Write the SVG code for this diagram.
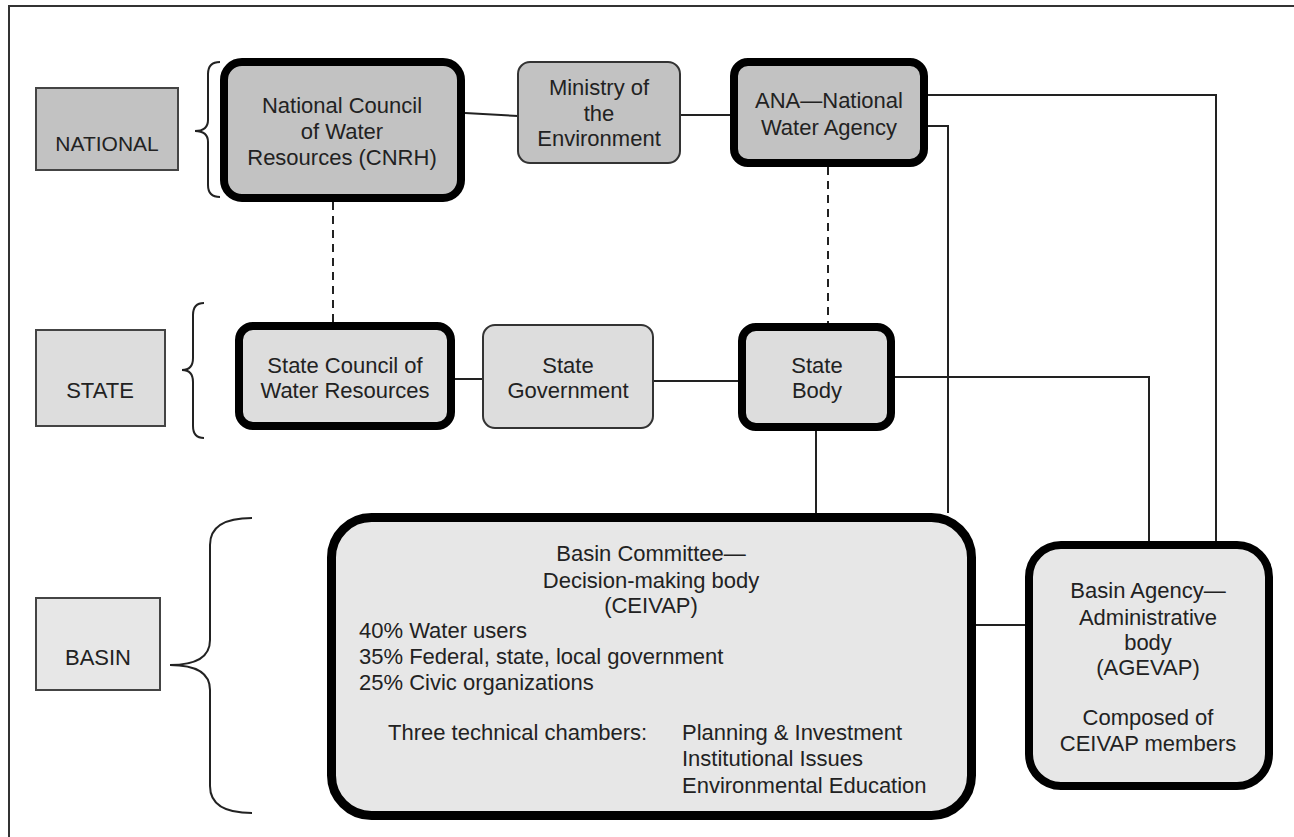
<svg xmlns="http://www.w3.org/2000/svg" width="1294" height="837" viewBox="0 0 1294 837">
<style>
text{font-family:"Liberation Sans",Arial,sans-serif;font-size:22px;fill:#222}
.c{text-anchor:middle}
.lbl{stroke:#444;stroke-width:2}
.thin{stroke:#333;stroke-width:2}
.thick{stroke:#000;stroke-width:8}
.nat{fill:#c2c2c2}
.sta{fill:#dddddd}
.bas{fill:#e7e7e7}
.ln{fill:none;stroke:#222;stroke-width:2}
.dash{fill:none;stroke:#222;stroke-width:2;stroke-dasharray:8 6}
.brace{fill:none;stroke:#222;stroke-width:2}
</style>
<rect x="0" y="0" width="1294" height="837" fill="#fff"/>
<path d="M9,837 V6 H1294" fill="none" stroke="#333" stroke-width="2"/>

<g id="braces">
<path class="brace" d="M220,62 Q208,62 208,74 V120 Q208,131 195,131 Q208,131 208,142 V185 Q208,197 220,197"/>
<path class="brace" d="M204,303 Q193,303 193,315 V358 Q193,370 182,370 Q193,370 193,382 V426 Q193,438 204,438"/>
<path class="brace" d="M252,518 Q210,518 210,545 V640 Q210,665 170,665 Q210,665 210,690 V786 Q210,813 252,813"/>
</g>

<g id="connectors">
<path class="ln" d="M465,113 L518,116"/>
<path class="ln" d="M680,115 H730"/>
<path class="ln" d="M928,95 H1216 V541"/>
<path class="ln" d="M928,126 H948 V513"/>
<path class="ln" d="M455,379 H483"/>
<path class="ln" d="M653,381 H738"/>
<path class="ln" d="M895,377 H1149 V541"/>
<path class="ln" d="M816,431 V513"/>
<path class="ln" d="M976,625 H1025"/>
<path class="dash" d="M333,202 V322"/>
<path class="dash" d="M828,167 V323"/>
</g>

<g id="label-national">
<rect class="lbl nat" x="36" y="88" width="142" height="82"/>
<text class="c" x="107" y="151" style="font-size:21px">NATIONAL</text>
</g>
<g id="label-state">
<rect class="lbl sta" x="36" y="330" width="129" height="96"/>
<text class="c" x="100" y="398">STATE</text>
</g>
<g id="label-basin">
<rect class="lbl bas" x="36" y="598" width="124" height="92"/>
<text class="c" x="98" y="665">BASIN</text>
</g>

<g id="cnrh">
<rect class="thick nat" x="224" y="62" width="237" height="136" rx="18"/>
<text class="c" x="342" y="113">National Council</text>
<text class="c" x="342" y="139">of Water</text>
<text class="c" x="342" y="165">Resources (CNRH)</text>
</g>
<g id="ministry">
<rect class="thin nat" x="518" y="62" width="162" height="101" rx="12"/>
<text class="c" x="599" y="95">Ministry of</text>
<text class="c" x="599" y="121">the</text>
<text class="c" x="599" y="146">Environment</text>
</g>
<g id="ana">
<rect class="thick nat" x="734" y="62" width="190" height="101" rx="14"/>
<text class="c" x="829" y="108">ANA—National</text>
<text class="c" x="829" y="135">Water Agency</text>
</g>

<g id="state-council">
<rect class="thick sta" x="239" y="326" width="212" height="100" rx="14"/>
<text class="c" x="345" y="373">State Council of</text>
<text class="c" x="345" y="398">Water Resources</text>
</g>
<g id="state-government">
<rect class="thin sta" x="483" y="325" width="170" height="103" rx="12"/>
<text class="c" x="568" y="373">State</text>
<text class="c" x="568" y="398">Government</text>
</g>
<g id="state-body">
<rect class="thick sta" x="742" y="327" width="149" height="100" rx="14"/>
<text class="c" x="817" y="373">State</text>
<text class="c" x="817" y="398">Body</text>
</g>

<g id="basin-committee">
<rect class="bas" x="331.5" y="517.5" width="640" height="298" rx="40" stroke="#000" stroke-width="9"/>
<text class="c" x="651" y="561">Basin Committee—</text>
<text class="c" x="651" y="588">Decision-making body</text>
<text class="c" x="651" y="613">(CEIVAP)</text>
<text x="359" y="638">40% Water users</text>
<text x="359" y="664">35% Federal, state, local government</text>
<text x="359" y="690">25% Civic organizations</text>
<text x="388" y="740">Three technical chambers:</text>
<text x="682" y="740">Planning &amp; Investment</text>
<text x="682" y="766">Institutional Issues</text>
<text x="682" y="793">Environmental Education</text>
</g>

<g id="basin-agency">
<rect class="thick bas" x="1029" y="545" width="240" height="241" rx="32"/>
<text class="c" x="1148" y="598">Basin Agency—</text>
<text class="c" x="1148" y="625">Administrative</text>
<text class="c" x="1148" y="650">body</text>
<text class="c" x="1148" y="675">(AGEVAP)</text>
<text class="c" x="1148" y="725">Composed of</text>
<text class="c" x="1148" y="751">CEIVAP members</text>
</g>
</svg>
